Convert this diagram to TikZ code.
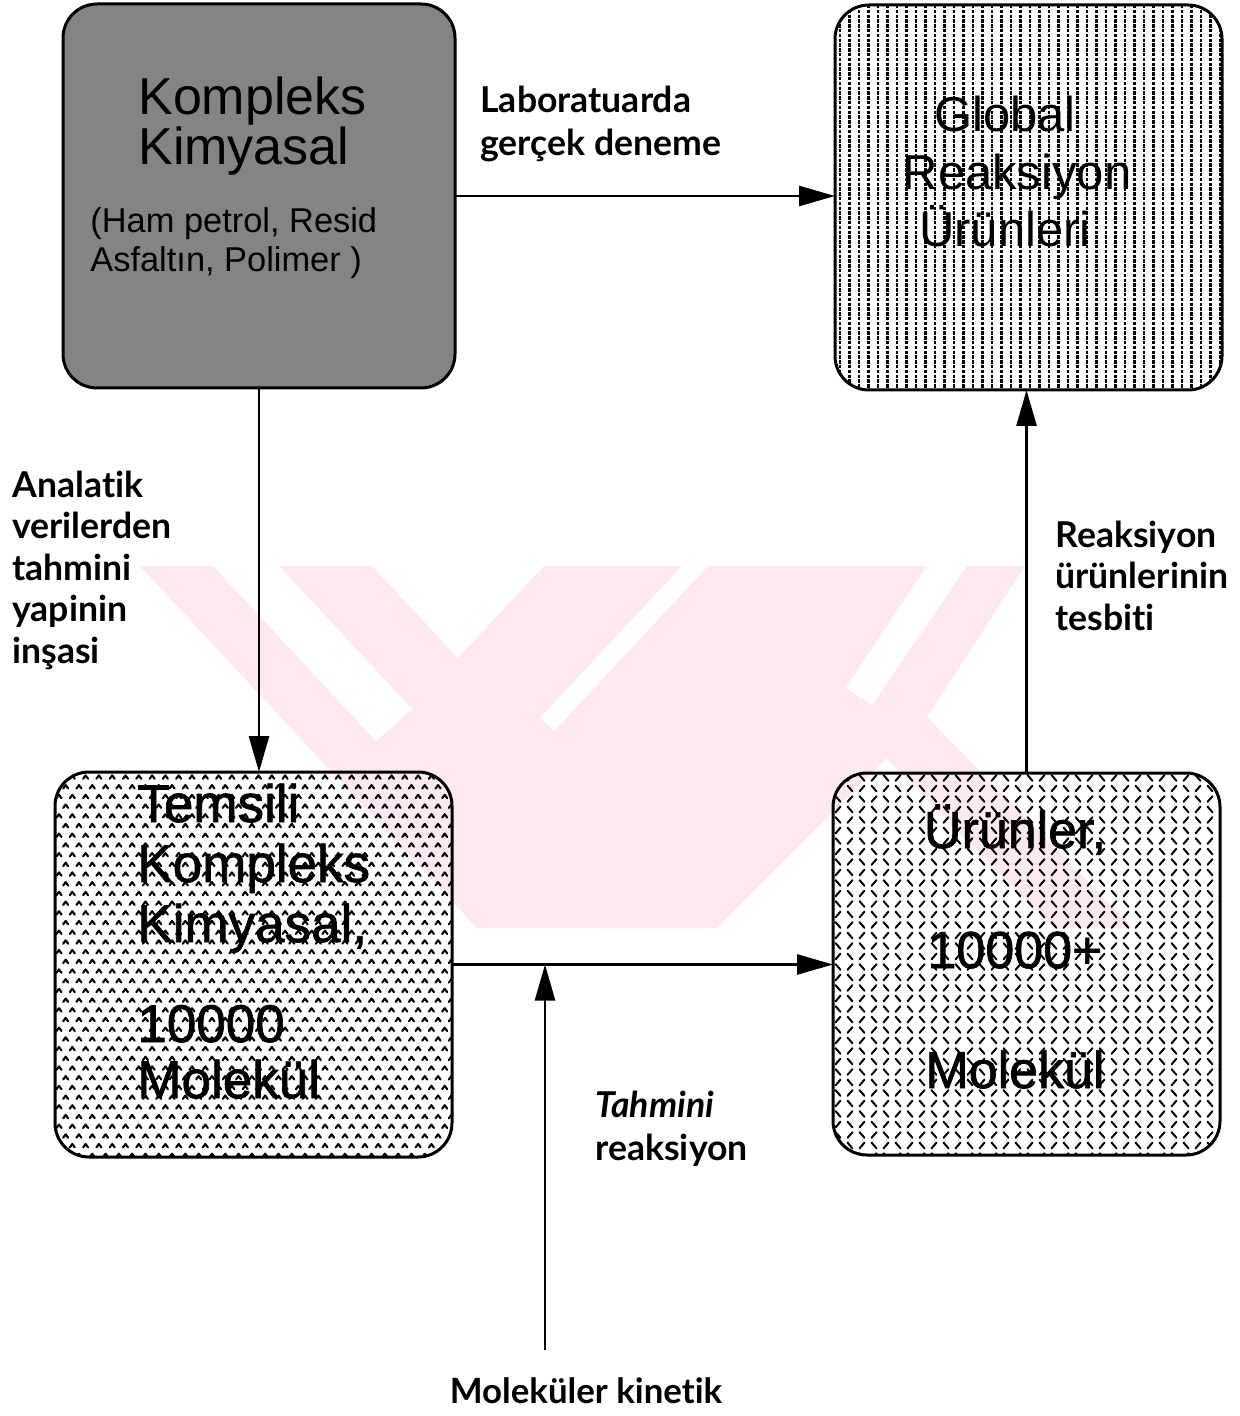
\documentclass[tikz,border=0pt]{standalone}
\usepackage{fontspec}
\setmainfont{Liberation Sans}
\newfontfamily\labelfont{Lato}[Ligatures={NoCommon}]
\newfontfamily\heavyfont{Liberation Sans}[FakeBold=1.3]
\usetikzlibrary{arrows.meta}
\definecolor{wmpink}{RGB}{253,233,238}
\definecolor{boxgray}{RGB}{132,132,132}
\begin{document}
\begin{tikzpicture}[x=0.5pt,y=-0.5pt,
  boxshape/.style={rectangle, rounded corners=17pt, draw, line width=1.5pt, inner sep=0pt, outer sep=0pt},
  flow/.style={line width=1.3pt, -{Triangle[length=18pt,width=10pt]}},
  lbl/.style={font=\labelfont\bfseries\fontsize{17.8}{21}\selectfont, align=left, anchor=base west, inner sep=0pt},
  boxtitle/.style={font=\fontsize{26}{25}\selectfont, align=left, inner sep=0pt},
  boxsub/.style={font=\fontsize{17.2}{19.5}\selectfont, align=left, inner sep=0pt},
  heavytitle/.style={font=\heavyfont\fontsize{26.5}{30}\selectfont, align=left, inner sep=0pt},
  caret/.style={line width=1.05pt, line cap=round, line join=round},
  slash/.style={line width=1pt, line cap=round}]

\fill[white] (0,0) rectangle (1239,1416);
\useasboundingbox (0,0) rectangle (1239,1416);

% pale logo in the background
\fill[wmpink] (140,566) -- (372,566) -- (709,928) -- (477,928) -- cycle;
\fill[wmpink] (544,566) -- (1025,566) -- (927,717) -- (717,928) -- (600,928) -- (458,658) -- cycle;
\fill[wmpink] (927,717) -- (1133,928) -- (1053,928) -- (886,758) -- cycle;
\fill[white] (213,566) -- (279,566) -- (412,709) -- (376,741) -- cycle;
\fill[white] (682,566) -- (708,566) -- (554,731) -- (540,718) -- cycle;
\fill[white] (927,566) -- (967,566) -- (872,705) -- (846,688) -- cycle;

% vertical dotted texture, top right box
\begin{scope}
  \clip[rounded corners=17pt] (835,5) rectangle (1222,390);
  \foreach \i in {0,...,41}
    \draw[line width=1.2pt, dash pattern=on 1.7pt off 0.7pt] ({840+\i*9.5},5) -- ({840+\i*9.5},390);
\end{scope}

% caret texture, bottom left box
\begin{scope}
  \clip[rounded corners=17pt] (55,772) rectangle (452,1157);
  \foreach \r in {0,...,40}
    \draw[caret] \foreach \c in {0,...,30} {
      ({59+mod(\r,2)*6.65+\c*13.3},{777+\r*9.7}) +(-2.5,1.8) -- +(0,-1.6) -- +(2.5,1.8) };
\end{scope}

% crossed dash texture, bottom right box
\begin{scope}
  \clip[rounded corners=17pt] (833,773) rectangle (1220,1155);
  \foreach \r in {0,...,37}
    \foreach \c in {0,...,32} {
      \pgfmathtruncatemacro\parity{mod(\r+\c,2)}
      \ifnum\parity=0
        \draw[slash] ({838+\c*12},{778+\r*10.5}) +(-2.4,-2.8) -- +(2.4,2.8);
      \else
        \draw[slash] ({838+\c*12},{778+\r*10.5}) +(-2.4,2.8) -- +(2.4,-2.8);
      \fi
    }
\end{scope}

% boxes
\node[boxshape, fill=boxgray, minimum width=196pt, minimum height=192pt] (b1) at (259,196) {};
\node[boxshape, minimum width=193.5pt, minimum height=192.5pt] (b2) at (1028.5,197.5) {};
\node[boxshape, minimum width=198.5pt, minimum height=192.5pt] (b3) at (253.5,964.5) {};
\node[boxshape, minimum width=193.5pt, minimum height=191pt] (b4) at (1026.5,964) {};

% box texts (anchored at the baseline of the last line)
\node[boxtitle, anchor=base west] (t1) at (138,165) {Kompleks\\Kimyasal};
\node[boxsub, anchor=base west] (t1s) at (90,272) {(Ham petrol, Resid\\Asfaltın, Polimer )};
\node[boxtitle, font=\fontsize{24.5}{28.75}\selectfont, align=center, anchor=base] (t2) at (1005,247) {Global\\\hspace*{12pt}Reaksiyon\\Ürünleri};
\node[heavytitle, anchor=base west] (t3a) at (137,942) {Temsili\\Kompleks\\Kimyasal,};
\node[heavytitle, font=\heavyfont\fontsize{26.5}{28}\selectfont, anchor=base west] (t3b) at (137,1098) {10000\\Molekül};
\node[heavytitle, font=\heavyfont\fontsize{26}{60}\selectfont, align=center, anchor=base] (t4) at (1015,1088) {Ürünler,\\10000+\\Molekül};

% connectors
\draw[flow] (b1.east) -- (b1.east -| b2.west);
\draw[flow] (b1.south) -- (b1.south |- b3.north);
\draw[flow] (b4.north) -- (b4.north |- b2.south);
\draw[flow] (b3.east) -- (b3.east -| b4.west);
\coordinate (kin) at (545,1350);
\draw[flow] (kin) -- (kin |- b3.east);

% labels
\node[lbl, font=\labelfont\bfseries\fontsize{17.8}{21.5}\selectfont] (l1) at (480,156) {Laboratuarda\\gerçek deneme};
\node[lbl, font=\labelfont\bfseries\fontsize{17.8}{20.75}\selectfont] (l2) at (12,663) {Analatik\\verilerden\\tahmini\\yapinin\\inşasi};
\node[lbl, font=\labelfont\bfseries\fontsize{17.8}{20.75}\selectfont] (l3) at (1055,630) {Reaksiyon\\ürünlerinin\\tesbiti};
\node[lbl, font=\labelfont\bfseries\fontsize{17.8}{21.5}\selectfont] (l4) at (595,1160) {{\itshape Tahmini}\\reaksiyon};
\node[lbl, font=\labelfont\bfseries\fontsize{17.4}{21}\selectfont, anchor=base] (l5) at (586,1403) {Moleküler kinetik};
\end{tikzpicture}
\end{document}
